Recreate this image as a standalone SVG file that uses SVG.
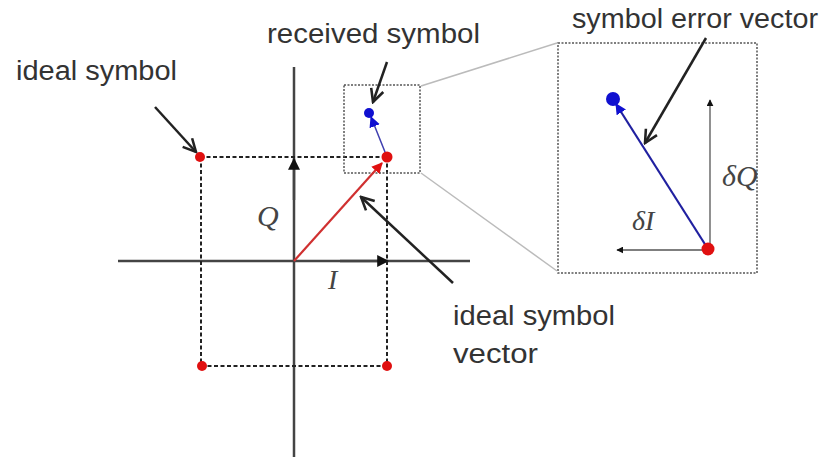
<svg xmlns="http://www.w3.org/2000/svg" width="838" height="457" viewBox="0 0 838 457">
<defs>
<style>
.lbl{font-family:"Liberation Sans",Arial,sans-serif;font-size:27px;fill:#333}
.math{font-family:"Liberation Serif","Times New Roman",serif;font-style:italic;fill:#444}
.axis{stroke:#444;stroke-width:2.5;fill:none}
.dash{stroke:#222;stroke-width:2;stroke-dasharray:4 2.5;fill:none}
.box{stroke:#555;stroke-width:1.5;stroke-dasharray:2 1.5;fill:none}
.zoomline{stroke:#bbb;stroke-width:1.5;fill:none}
.call{stroke:#222;stroke-width:2.5;fill:none}
.thin{stroke:#555;stroke-width:1.3;fill:none}
.red{fill:#e01010}
.blue{fill:#1010d0}
</style>
<marker id="tri" viewBox="0 0 10 10" refX="9" refY="5" markerWidth="7" markerHeight="7" markerUnits="userSpaceOnUse" orient="auto"><path d="M0,0 L10,5 L0,10 z" fill="#111"/></marker>
<marker id="triAx" viewBox="0 0 10 10" refX="9" refY="5" markerWidth="12" markerHeight="12" markerUnits="userSpaceOnUse" orient="auto"><path d="M0,0 L10,5 L0,10 z" fill="#111"/></marker>
<marker id="triR" viewBox="0 0 10 10" refX="9" refY="5" markerWidth="11" markerHeight="11" markerUnits="userSpaceOnUse" orient="auto"><path d="M0,0 L10,5 L0,10 z" fill="#e01010"/></marker>
<marker id="triB" viewBox="0 0 10 10" refX="9" refY="5" markerWidth="11" markerHeight="11" markerUnits="userSpaceOnUse" orient="auto"><path d="M0,0 L10,5 L0,10 z" fill="#1010d0"/></marker>
<marker id="vee" viewBox="0 0 10 10" refX="9" refY="5" markerWidth="16" markerHeight="16" markerUnits="userSpaceOnUse" orient="auto"><path d="M1,1 L9,5 L1,9" fill="none" stroke="#222" stroke-width="1.6"/></marker>
</defs>

<g id="axes">
<line class="axis" x1="294" y1="67" x2="294" y2="457"/>
<line class="axis" x1="118" y1="261" x2="470" y2="261"/>
<line class="axis" x1="294" y1="200" x2="294" y2="159" marker-end="url(#triAx)"/>
<line class="axis" x1="340" y1="261" x2="388" y2="261" marker-end="url(#triAx)"/>
<text class="math" x="257" y="226" font-size="30">Q</text>
<text class="math" x="328" y="289" font-size="28">I</text>
</g>

<g id="grid">
<line class="dash" x1="200" y1="157" x2="387" y2="157"/>
<line class="dash" x1="201" y1="366" x2="387" y2="366"/>
<line class="dash" x1="201" y1="157" x2="201" y2="366"/>
<line class="dash" x1="387" y1="157" x2="387" y2="366"/>
</g>

<g id="zoom-frames">
<rect class="box" x="344" y="85" width="76" height="88"/>
<rect class="box" x="558" y="43" width="199" height="230"/>
<line class="zoomline" x1="421" y1="86" x2="557" y2="43"/>
<line class="zoomline" x1="421" y1="173" x2="557" y2="271"/>
</g>

<g id="connectors">
<line x1="294" y1="261" x2="382" y2="163" stroke="#d03030" stroke-width="2.2" marker-end="url(#triR)"/>
<line x1="387" y1="157" x2="371" y2="117" stroke="#4040b0" stroke-width="1.5" marker-end="url(#triB)"/>
<line x1="708" y1="249" x2="616" y2="104" stroke="#2020a0" stroke-width="2.2" marker-end="url(#triB)"/>
<line class="thin" x1="710" y1="249" x2="710" y2="100" marker-end="url(#tri)"/>
<line class="thin" x1="710" y1="250" x2="617" y2="250" marker-end="url(#tri)"/>
<line class="call" x1="155" y1="107" x2="196" y2="152" marker-end="url(#vee)"/>
<line class="call" x1="387" y1="62" x2="373" y2="102" marker-end="url(#vee)"/>
<line class="call" x1="706" y1="38" x2="645" y2="143" marker-end="url(#vee)"/>
<line class="call" x1="453" y1="283" x2="361" y2="197" marker-end="url(#vee)"/>
</g>

<g id="ideal-symbols">
<circle class="red" cx="200" cy="157" r="5"/>
<circle class="red" cx="387" cy="157" r="5.5"/>
<circle class="red" cx="202" cy="366" r="5"/>
<circle class="red" cx="387" cy="366" r="5"/>
<circle class="red" cx="708" cy="249" r="6.5"/>
</g>

<g id="received-symbols">
<circle class="blue" cx="369" cy="113" r="5"/>
<circle class="blue" cx="613" cy="99" r="7"/>
</g>

<g id="labels">
<text class="lbl" x="16" y="80" textLength="161" lengthAdjust="spacingAndGlyphs">ideal symbol</text>
<text class="lbl" x="267" y="43" textLength="213" lengthAdjust="spacingAndGlyphs">received symbol</text>
<text class="lbl" x="572" y="28" textLength="246" lengthAdjust="spacingAndGlyphs">symbol error vector</text>
<text class="lbl" x="453" y="325" textLength="162" lengthAdjust="spacingAndGlyphs">ideal symbol</text>
<text class="lbl" x="453" y="363" textLength="85" lengthAdjust="spacingAndGlyphs">vector</text>
<text class="math" x="722" y="186" font-size="30">δQ</text>
<text class="math" x="632" y="230" font-size="28">δI</text>
</g>
</svg>
